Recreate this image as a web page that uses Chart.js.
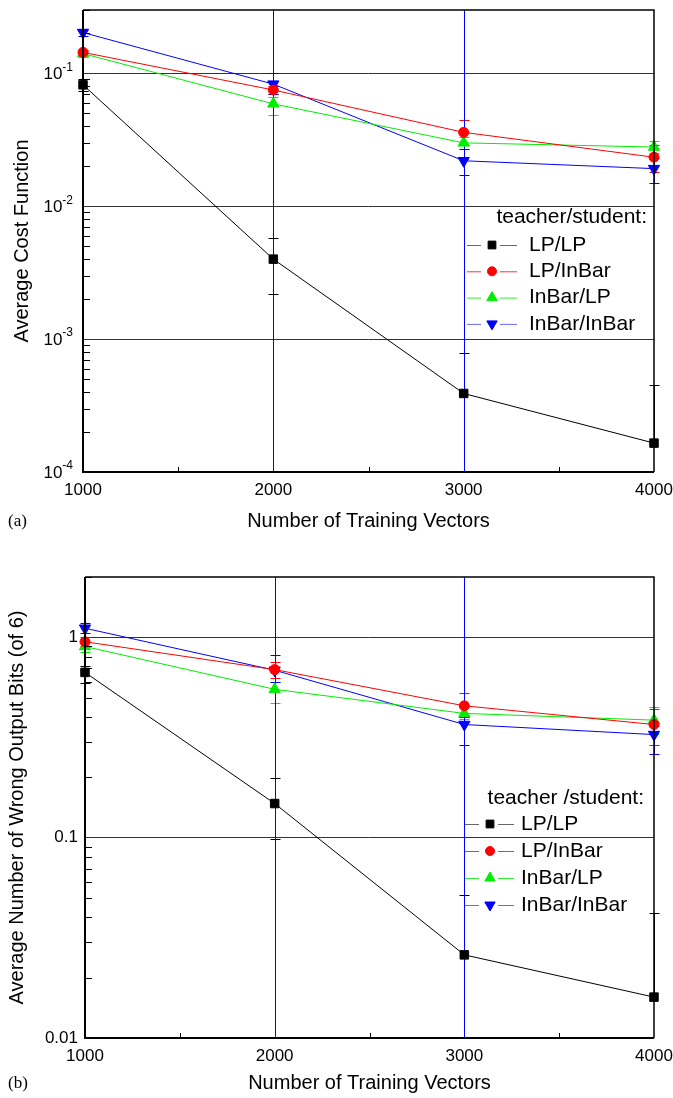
<!DOCTYPE html>
<html lang="en">
<head>
<meta charset="UTF-8">
<title>Average Cost Function / Wrong Output Bits</title>
<script src="https://cdn.jsdelivr.net/npm/chart.js"></script>
<style>
  body { margin: 0; background: #fff; }
  #wrap { position: relative; width: 673px; height: 1098px; }
  canvas { position: absolute; left: 0; }
  #chartA { top: 0; }
  #chartB { top: 545px; }
  .panel { position: absolute; left: 8px; font: 17px "Liberation Serif", "DejaVu Serif", serif; line-height: 20px; }
</style>
</head>
<body>
<div id="wrap">
  <canvas id="chartA" width="673" height="545"></canvas>
  <canvas id="chartB" width="673" height="553"></canvas>
  <div class="panel" style="top: 511px">(a)</div>
  <div class="panel" style="top: 1073px">(b)</div>
</div>
<script>
// --- data ---
const trainingVectors = [1000, 2000, 3000, 4000];
const xTicks = [1000, 2000, 3000, 4000];
const xTickLabels = ['1000', '2000', '3000', '4000'];
const xMinorTicks = [1500, 2500, 3500];
const seriesNames = ['LP/LP', 'LP/InBar', 'InBar/LP', 'InBar/InBar'];

// (a) average cost function
const costLpLp = [0.082, 0.0040, 0.00039, 0.000165];
const costLpLpHi = [0.090, 0.0058, 0.00078, 0.00045];
const costLpLpLo = [0.074, 0.0022, null, null];
const costLpIn = [0.144, 0.075, 0.036, 0.0234];
const costLpInHi = [0.150, 0.080, 0.0447, 0.0289];
const costLpInLo = [0.138, 0.070, 0.029, 0.0181];
const costInLp = [0.141, 0.059, 0.030, 0.0279];
const costInLpHi = [0.148, 0.066, 0.033, 0.031];
const costInLpLo = [0.134, 0.049, 0.027, 0.025];
const costInIn = [0.203, 0.083, 0.022, 0.0192];
const costInInHi = [0.215, 0.100, 0.027, 0.023];
const costInInLo = [0.190, 0.070, 0.0171, 0.015];
const costInInSpan = [false, true, true, false];   // error bar runs off both ends
const costTicks = [1e-4, 1e-3, 1e-2, 1e-1];
const costTickBase = ['10', '10', '10', '10'];
const costTickExp = ['-4', '-3', '-2', '-1'];

// (b) wrong output bits
const bitsLpLp = [0.668, 0.148, 0.026, 0.016];
const bitsLpLpHi = [0.72, 0.199, 0.052, 0.042];
const bitsLpLpLo = [0.59, 0.098, null, null];
const bitsLpIn = [0.95, 0.69, 0.455, 0.367];
const bitsLpInHi = [1.00, 0.75, 0.53, 0.44];
const bitsLpInLo = [0.90, 0.63, 0.40, 0.29];
const bitsInLp = [0.90, 0.55, 0.417, 0.386];
const bitsInLpHi = [0.95, 0.60, 0.45, 0.45];
const bitsInLpLo = [0.84, 0.47, 0.39, 0.33];
const bitsInIn = [1.11, 0.685, 0.367, 0.327];
const bitsInInHi = [1.18, 0.82, 0.40, 0.36];
const bitsInInLo = [1.05, 0.60, 0.29, 0.263];
const bitsInInSpan = [false, true, true, false];
const bitsTicks = [0.01, 0.1, 1];
const bitsTickLabels = ['0.01', '0.1', '1'];

// --- styles ---
const colors = ['#000000', '#ff0000', '#00ee00', '#0000ff'];
const legendLineColors = ['#666666', '#ff3333', '#33ee33', '#6666ff'];
const markers = ['rect', 'circle', 'triangle', 'triangle'];
const markerRot = [0, 0, 0, 180];
const markerSize = [6, 5, 6.5, 6.5];
const FONT = '"Liberation Sans", Arial, "DejaVu Sans", sans-serif';

Chart.defaults.font.family = FONT;
Chart.defaults.color = '#000';

function makeSet(i, values, hi, lo, span) {
  return {
    label: seriesNames[i],
    data: trainingVectors.map((x, k) => ({ x: x, y: values[k] })),
    errHi: hi, errLo: lo, span: span || null, legendLine: legendLineColors[i],
    borderColor: colors[i], backgroundColor: colors[i],
    borderWidth: 1, tension: 0, clip: false,
    pointStyle: markers[i], pointRotation: markerRot[i],
    pointRadius: markerSize[i], pointHoverRadius: markerSize[i],
    pointBorderWidth: 1, pointBackgroundColor: colors[i], pointBorderColor: colors[i]
  };
}

function decadeIndex(v, decades) {
  return decades.findIndex(d => Math.abs(v - d) / d < 1e-6);
}

// error bars, frame, inner ticks, power-of-ten labels and in-plot legend
const extras = {
  id: 'extras',
  beforeDatasetsDraw(chart) {
    const { ctx, chartArea: a, scales: { x, y } } = chart;
    ctx.save();
    ctx.lineWidth = 1;
    chart.data.datasets.forEach(ds => {
      ctx.strokeStyle = ds.borderColor;
      if (ds.span) {
        ds.span.forEach((on, k) => {
          if (!on) return;
          const px = Math.round(x.getPixelForValue(trainingVectors[k])) + 0.5;
          ctx.beginPath(); ctx.moveTo(px, a.top); ctx.lineTo(px, a.bottom); ctx.stroke();
        });
      }
      ds.data.forEach((pt, k) => {
        const px = Math.round(x.getPixelForValue(pt.x)) + 0.5;
        const py = y.getPixelForValue(pt.y);
        [ds.errHi[k], ds.errLo[k]].forEach(e => {
          if (e == null) return;
          const ey = Math.round(y.getPixelForValue(e)) + 0.5;
          ctx.beginPath();
          ctx.moveTo(px, py); ctx.lineTo(px, ey);
          ctx.moveTo(px - 5, ey); ctx.lineTo(px + 5, ey);
          ctx.stroke();
        });
      });
    });
    ctx.restore();
  },
  afterDatasetsDraw(chart, args, opts) {
    const { ctx, chartArea: a, scales: { x, y } } = chart;
    ctx.save();
    ctx.strokeStyle = '#000';
    ctx.lineWidth = 1;
    // inner minor ticks on the y axis
    y.ticks.forEach(t => {
      if (decadeIndex(t.value, opts.decades) >= 0) return;
      const py = Math.round(y.getPixelForValue(t.value)) + 0.5;
      ctx.beginPath(); ctx.moveTo(a.left, py); ctx.lineTo(a.left + 7, py); ctx.stroke();
    });
    xMinorTicks.forEach(v => {
      const px = Math.round(x.getPixelForValue(v)) + 0.5;
      ctx.beginPath(); ctx.moveTo(px, a.bottom); ctx.lineTo(px, a.bottom - 5); ctx.stroke();
    });
    // frame
    ctx.lineWidth = 1.5;
    ctx.beginPath();
    ctx.moveTo(a.left, a.top); ctx.lineTo(a.right, a.top); ctx.lineTo(a.right, a.bottom);
    ctx.stroke();
    ctx.lineWidth = 2;
    ctx.beginPath();
    ctx.moveTo(a.left, a.top); ctx.lineTo(a.left, a.bottom); ctx.lineTo(a.right, a.bottom);
    ctx.stroke();

    // 10^n labels with raised exponent
    if (opts.expLabels) {
      ctx.fillStyle = '#000';
      ctx.textBaseline = 'middle';
      ctx.textAlign = 'right';
      opts.decades.forEach((d, k) => {
        const py = y.getPixelForValue(d);
        const rx = a.left - 10;
        ctx.font = '12px ' + FONT;
        const ew = ctx.measureText(opts.expLabels[k]).width;
        ctx.fillText(opts.expLabels[k], rx, py - 6);
        ctx.font = '17px ' + FONT;
        ctx.fillText(opts.baseLabels[k], rx - ew, py + 1);
      });
    }

    // legend
    ctx.font = '21px ' + FONT;
    ctx.fillStyle = '#000';
    ctx.textBaseline = 'middle';
    ctx.textAlign = 'right';
    ctx.fillText(opts.title, opts.titleRight, opts.titleY);
    ctx.textAlign = 'left';
    chart.data.datasets.forEach((ds, i) => {
      const ry = opts.rowY + i * opts.rowStep;
      const mx = opts.markerX;
      ctx.strokeStyle = ds.legendLine;
      ctx.lineWidth = 1;
      ctx.beginPath();
      ctx.moveTo(opts.lineX0, ry + 0.5); ctx.lineTo(mx - 11, ry + 0.5);
      ctx.moveTo(mx + 8, ry + 0.5); ctx.lineTo(opts.lineX1, ry + 0.5);
      ctx.stroke();
      ctx.fillStyle = ds.backgroundColor;
      ctx.strokeStyle = ds.borderColor;
      Chart.helpers.drawPoint(ctx, {
        pointStyle: ds.pointStyle, rotation: ds.pointRotation,
        radius: ds.pointRadius - 0.5, borderWidth: 1
      }, mx, ry);
      ctx.fillStyle = '#000';
      ctx.fillText(ds.label, opts.textX, ry);
    });
    ctx.restore();
  }
};

function buildChart(id, c) {
  const allY = [];
  c.decades.forEach(d => {
    for (let m = 1; m <= 9; m++) {
      const v = d * m;
      if (v <= c.yMax * 1.0001) allY.push(v);
    }
  });
  const allX = xTicks.concat(xMinorTicks).sort((p, q) => p - q);

  return new Chart(document.getElementById(id), {
    type: 'line',
    data: { datasets: c.datasets },
    options: {
      responsive: false,
      animation: false,
      devicePixelRatio: 1,
      events: [],
      layout: { padding: { left: 0, right: 19, top: c.top, bottom: 0 } },
      plugins: {
        legend: { display: false },
        tooltip: { enabled: false },
        extras: Object.assign({
          decades: c.decades, baseLabels: c.baseLabels || null, expLabels: c.expLabels || null
        }, c.legend)
      },
      scales: {
        x: {
          type: 'linear', position: 'bottom', min: 1000, max: 4000,
          afterBuildTicks: s => { s.ticks = allX.map(v => ({ value: v })); },
          afterFit: s => { s.height = c.xHeight; s.paddingLeft = 0; s.paddingRight = 0; },
          grid: { display: false, drawTicks: false },
          border: { display: false },
          ticks: {
            autoSkip: false, maxRotation: 0, padding: 8,
            font: { size: 17 }, color: '#000',
            callback: v => { const k = xTicks.indexOf(v); return k >= 0 ? xTickLabels[k] : ''; }
          },
          title: {
            display: true, text: 'Number of Training Vectors',
            font: { size: 20 }, color: '#000',
            padding: { top: 0, bottom: c.xTitlePad }
          }
        },
        y: {
          type: 'logarithmic', min: c.decades[0], max: c.yMax,
          afterBuildTicks: s => { s.ticks = allY.map(v => ({ value: v })); },
          afterFit: s => { s.width = c.yWidth; s.paddingTop = 0; s.paddingBottom = 0; },
          grid: {
            drawTicks: false, lineWidth: 1,
            color: ctx => (ctx.tick && decadeIndex(ctx.tick.value, c.decades) >= 0) ? '#333' : 'rgba(0,0,0,0)'
          },
          border: { display: false },
          ticks: {
            autoSkip: false, padding: c.yTickPad,
            font: { size: 17 }, color: '#000',
            callback: v => {
              if (!c.tickLabels) return '';
              const k = decadeIndex(v, c.decades);
              return k >= 0 ? c.tickLabels[k] : '';
            }
          },
          title: {
            display: true, text: c.yTitle,
            font: { size: 20 }, color: '#000',
            padding: { top: c.yTitlePad, bottom: 0 }
          }
        }
      }
    },
    plugins: [extras]
  });
}

buildChart('chartA', {
  datasets: [
    makeSet(0, costLpLp, costLpLpHi, costLpLpLo),
    makeSet(1, costLpIn, costLpInHi, costLpInLo),
    makeSet(2, costInLp, costInLpHi, costInLpLo),
    makeSet(3, costInIn, costInInHi, costInInLo, costInInSpan)
  ],
  decades: costTicks, baseLabels: costTickBase, expLabels: costTickExp, yMax: 0.3,
  yTitle: 'Average Cost Function',
  top: 10, xHeight: 73, yWidth: 83, xTitlePad: 12, yTitlePad: 10, yTickPad: 10,
  legend: {
    title: 'teacher/student:', titleRight: 647, titleY: 217,
    rowY: 245, rowStep: 26.3, lineX0: 467, lineX1: 517, markerX: 492, textX: 529
  }
});

buildChart('chartB', {
  datasets: [
    makeSet(0, bitsLpLp, bitsLpLpHi, bitsLpLpLo),
    makeSet(1, bitsLpIn, bitsLpInHi, bitsLpInLo),
    makeSet(2, bitsInLp, bitsInLpHi, bitsInLpLo),
    makeSet(3, bitsInIn, bitsInInHi, bitsInInLo, bitsInInSpan)
  ],
  decades: bitsTicks, tickLabels: bitsTickLabels, yMax: 2,
  yTitle: 'Average Number of Wrong Output Bits (of 6)',
  top: 32, xHeight: 60, yWidth: 85, xTitlePad: 3, yTitlePad: 5, yTickPad: 7,
  legend: {
    title: 'teacher /student:', titleRight: 644, titleY: 253,
    rowY: 279, rowStep: 27, lineX0: 465, lineX1: 514, markerX: 490, textX: 521
  }
});
</script>
</body>
</html>
